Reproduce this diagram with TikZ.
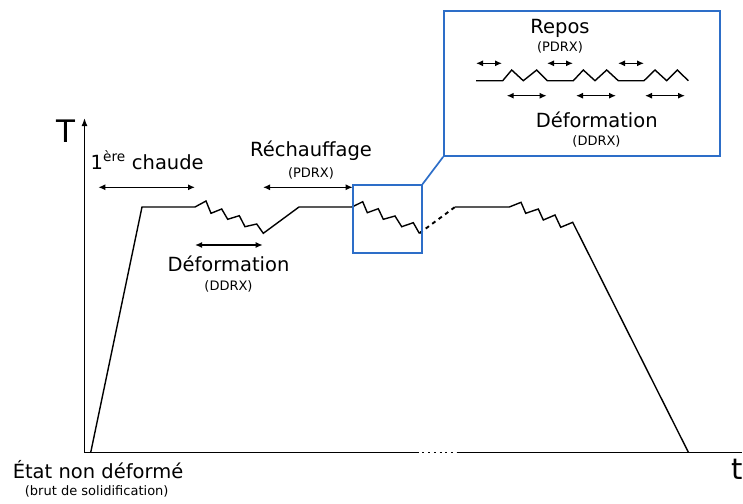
\documentclass[tikz,border=0pt]{standalone}
\usepackage{fontspec}
\setmainfont{DejaVu Sans}
\usetikzlibrary{arrows.meta}
\definecolor{zoomblue}{RGB}{45,110,200}

\begin{document}
\begin{tikzpicture}[x=1pt,y=-1pt,line width=1.4pt,
    big/.style={font=\fontsize{19.5}{22}\selectfont,inner sep=0pt,anchor=base},
    small/.style={font=\fontsize{13}{15}\selectfont,inner sep=0pt,anchor=base},
    span/.style={{Latex[length=7pt,width=6pt]}-{Latex[length=7pt,width=6pt]},line width=1.3pt},
    zoombox/.style={draw=zoomblue,line width=1.7pt,inner sep=0pt}]
  \useasboundingbox (0,0) rectangle (743,503);

  % axes
  \coordinate (O) at (84.5,452.5);
  \coordinate (ytop) at (84.5,118);
  \coordinate (gapL) at (416.7,452.5);
  \coordinate (gapR) at (456.7,452.5);
  \coordinate (xend) at (742,452.5);
  \draw[line width=1.5pt,-{Latex[length=8pt,width=6pt]}] (O) -- (ytop);
  \draw[line width=1.5pt] (O) -- (gapL);
  \draw[line width=1.5pt,dash pattern=on 2pt off 3.7pt] (gapL) -- (gapR);
  \draw[line width=1.5pt] (gapR) -- (xend);
  \node[font=\fontsize{31}{34}\selectfont,inner sep=0pt] (Tlab) at (65.5,131) {T};
  \node[font=\fontsize{29}{32}\selectfont,inner sep=0pt] (tlab) at (737,469) {t};

  % temperature path
  \draw (90.7,452.5) -- (142,207) -- (195,207)
    -- (206,201) -- (211,213.3) -- (221.7,209) -- (227.7,219.3)
    -- (239.3,215.7) -- (245,226.7) -- (256.7,224) -- (263.3,233.3)
    -- (299,207) -- (352,207)
    -- (362.7,201.7) -- (367.3,212.7) -- (378.3,208.7) -- (383.3,219.3)
    -- (395,216) -- (401.7,226.7) -- (413.3,222.7) -- (419.3,233.3);
  \draw[line width=1.9pt,dash pattern=on 4pt off 4pt] (419.3,233.3) -- (455,207);
  \draw (455,207) -- (509.3,207)
    -- (521,202.3) -- (525.7,213.3) -- (538.3,209) -- (543.3,220)
    -- (555,215) -- (560.7,227.3) -- (572.7,222.3) -- (688.5,452.5);

  % phases
  \coordinate (chaudeL) at (98.3,187.3);
  \coordinate (chaudeR) at (195,187.3);
  \coordinate (rechL) at (263,187.3);
  \coordinate (rechR) at (352.7,187.3);
  \coordinate (defL) at (195,245);
  \coordinate (defR) at (262.7,245);
  \draw[span] (chaudeL) -- (chaudeR);
  \draw[span] (rechL) -- (rechR);
  \draw[span] (defL) -- (defR);
  \node[big,anchor=base west] (chaude) at (90,169) {1\textsuperscript{ère} chaude};
  \node[big] (rech) at (311,156.7) {Réchauffage};
  \node[small] (rechsub) at (311,177.7) {(PDRX)};
  \node[big] (def) at (228.5,271.7) {Déformation};
  \node[small] (defsub) at (228.5,290) {(DDRX)};
  \node[big] (etat) at (98,478.3) {État non déformé};
  \node[small] (etatsub) at (96.7,495) {(brut de solidification)};

  % zoom
  \node[zoombox,minimum width=69pt,minimum height=68pt] (zsmall) at (387.2,219) {};
  \node[zoombox,minimum width=276pt,minimum height=145pt] (zbig) at (582,83.5) {};
  \draw[zoomblue,line width=1.7pt] (zsmall.north east) -- (zbig.south west);

  \draw (476,80.7) -- (502.7,80.7) -- (511.7,70) -- (523.3,80.7) -- (536.7,70)
    -- (547.3,80.7) -- (573.3,80.7) -- (583.3,70) -- (595,80.7) -- (606.7,70)
    -- (618.3,80.7) -- (644,80.7) -- (655,70) -- (666.7,80.7) -- (677.3,70)
    -- (688.3,80.7);
  \coordinate (r1L) at (476,63.3);
  \coordinate (r1R) at (502,63.3);
  \coordinate (r2L) at (547,63.3);
  \coordinate (r2R) at (573,63.3);
  \coordinate (r3L) at (618,63.3);
  \coordinate (r3R) at (644,63.3);
  \coordinate (d1L) at (506.7,95.7);
  \coordinate (d1R) at (546.7,95.7);
  \coordinate (d2L) at (576,95.7);
  \coordinate (d2R) at (616,95.7);
  \coordinate (d3L) at (645,95.7);
  \coordinate (d3R) at (685,95.7);
  \draw[span] (r1L) -- (r1R);
  \draw[span] (r2L) -- (r2R);
  \draw[span] (r3L) -- (r3R);
  \draw[span] (d1L) -- (d1R);
  \draw[span] (d2L) -- (d2R);
  \draw[span] (d3L) -- (d3R);
  \node[big] (repos) at (560,33.3) {Repos};
  \node[small] (repossub) at (560,52) {(PDRX)};
  \node[big] (zdef) at (596.7,127.3) {Déformation};
  \node[small] (zdefsub) at (596.5,145.5) {(DDRX)};
\end{tikzpicture}
\end{document}
